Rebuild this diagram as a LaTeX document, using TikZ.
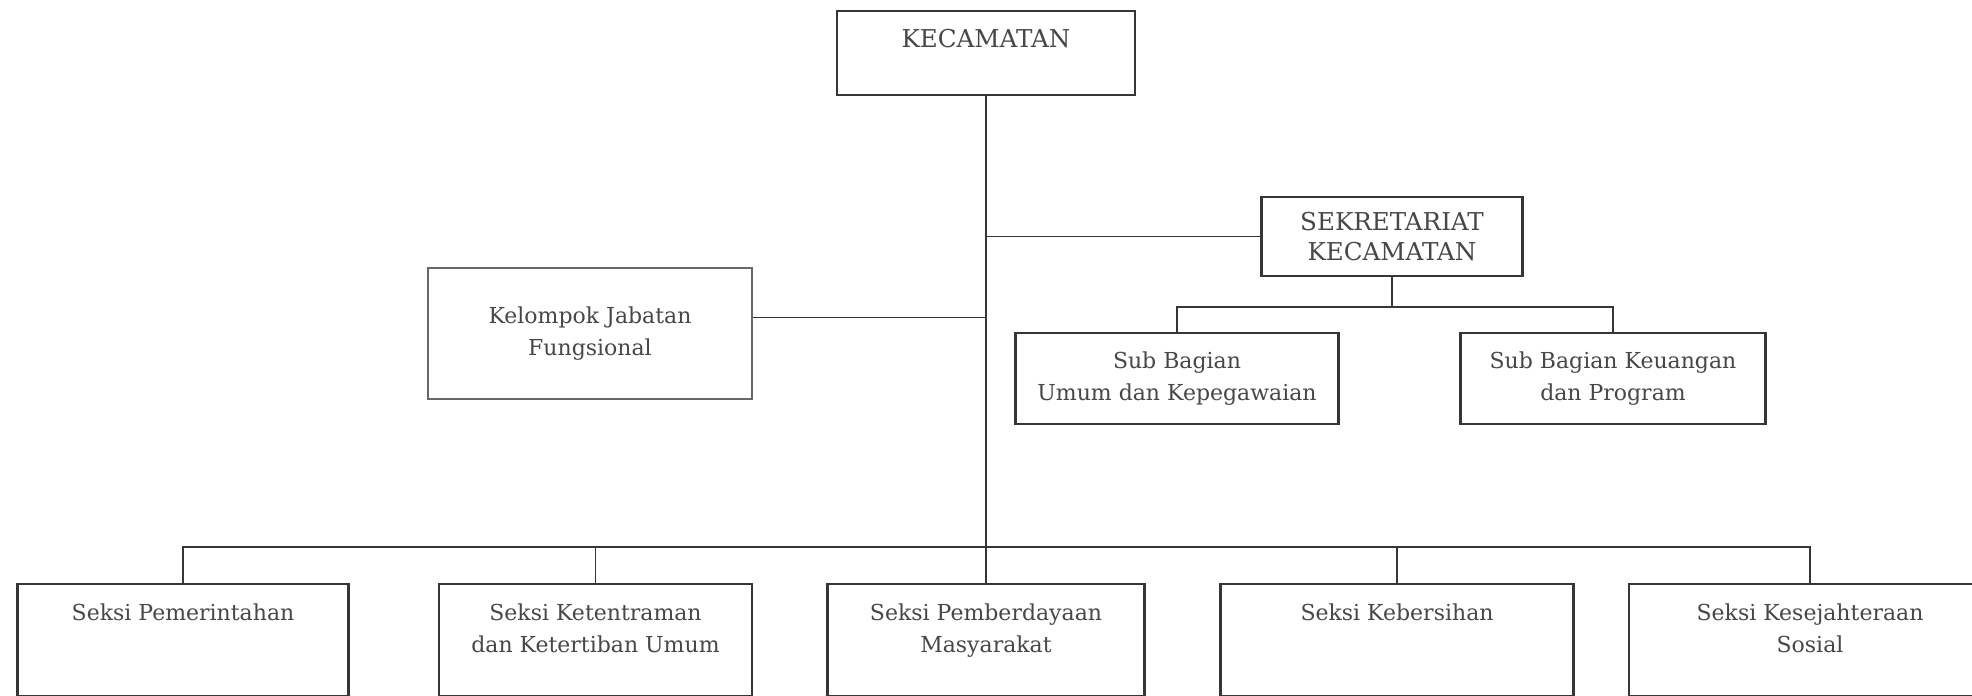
\documentclass[tikz,border=0pt]{standalone}
\usepackage{fontspec}
\setmainfont{DejaVu Serif}
\usepackage{xcolor}

\definecolor{ink}{HTML}{363636}
\definecolor{txt}{HTML}{474747}

\tikzset{
  unit/.style={draw=ink, line width=1.1pt, text=txt, align=center,
    font=\fontsize{11}{16}\selectfont},
  head/.style={unit, font=\fontsize{12.3}{15}\selectfont},
  seksi/.style={unit, anchor=north, inner ysep=0pt, text height=18pt, text depth=38pt},
  seksi2/.style={seksi, text height=34pt, text depth=22pt},
  link/.style={draw=ink, line width=0.8pt},
}

\begin{document}
\begin{tikzpicture}[x=0.5pt, y=-0.5pt]
\useasboundingbox[fill=white] (0,0) rectangle (1972,696);

\node[head, anchor=north, minimum width=149pt, inner ysep=0pt, text height=18pt, text depth=24pt] (kec) at (986,10) {KECAMATAN};
\node[head, minimum width=130.5pt, minimum height=39.5pt] (sek) at (1392,236.5) {SEKRETARIAT\\KECAMATAN};
\node[unit, draw=ink!75, minimum width=162pt, minimum height=65.5pt] (kjf) at (590,333.5) {Kelompok Jabatan\\Fungsional};
\node[unit, minimum width=161.5pt, minimum height=45.5pt] (sbu) at (1177,378.5) {Sub Bagian\\Umum dan Kepegawaian};
\node[unit, minimum width=152.5pt, minimum height=45.5pt] (sbk) at (1613,378.5) {Sub Bagian Keuangan\\dan Program};

\node[seksi, minimum width=165.5pt] (sp) at (183,583) {Seksi Pemerintahan};
\node[seksi2, minimum width=156.5pt] (skt) at (595.5,583) {Seksi Ketentraman\\dan Ketertiban Umum};
\node[seksi2, minimum width=158.5pt] (spm) at (986,583) {Seksi Pemberdayaan\\Masyarakat};
\node[seksi, minimum width=176.5pt] (skb) at (1397,583) {Seksi Kebersihan};
\node[seksi2, minimum width=181pt] (sks) at (1810,583) {Seksi Kesejahteraan\\Sosial};

\draw[link] (kec.south) -- (kec.south |- spm.north);
\draw[link] (kec.south |- sek.west) -- (sek.west);
\draw[link] ([yshift=8pt]kjf.east) -- ([yshift=8pt]kjf.east -| kec.south);

\draw[link] (sek.south) -- ++(0,30) -| (sbu.north);
\draw[link] (sek.south) -- ++(0,30) -| (sbk.north);

\foreach \n in {sp,skt,skb,sks}
  \draw[link] ([yshift=18pt]spm.north) -| (\n.north);
\end{tikzpicture}
\end{document}
